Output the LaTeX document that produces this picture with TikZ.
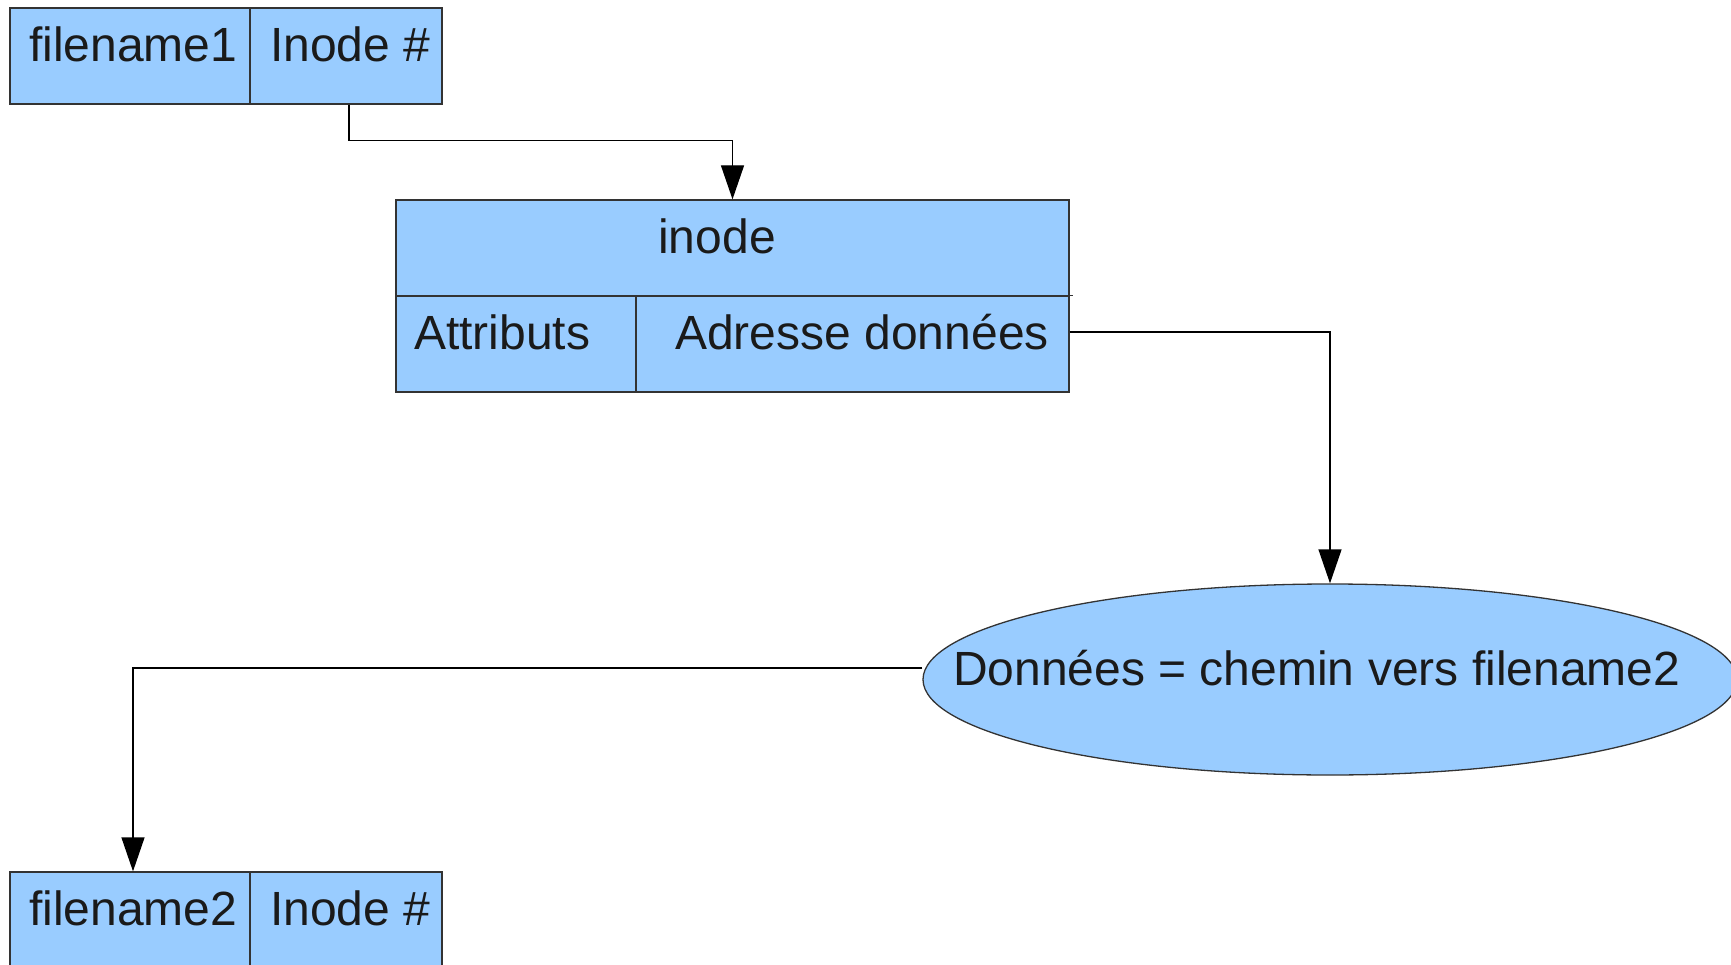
\documentclass[tikz,border=0pt]{standalone}
\usepackage{fontspec}
\setmainfont{Liberation Sans}
\usetikzlibrary{arrows.meta,shapes.geometric,calc}
\definecolor{cellfill}{HTML}{99CCFF}
\definecolor{edge}{HTML}{333333}
\definecolor{ink}{HTML}{1A1A1A}
\tikzset{
  cell/.style={draw=edge, fill=cellfill, line width=1.3pt, inner sep=0pt, rectangle},
  oval/.style={draw=edge, fill=cellfill, line width=1.3pt, inner sep=0pt, ellipse},
  lbl/.style={inner sep=0pt, text=ink, font=\fontsize{48}{58}\selectfont},
  conn/.style={draw=black, line width=1.3pt, -{Triangle[length=34pt,width=23pt]}},
}
\begin{document}
\begin{tikzpicture}[x=1pt,y=-1pt]
\useasboundingbox (0,0) rectangle (1731,965);

% directory entry for filename1
\node[cell, minimum width=240pt, minimum height=96pt] (f1name) at (130,56) {};
\node[cell, minimum width=192pt, minimum height=96pt] (f1ino) at (346,56) {};
\node[lbl, anchor=base west] (f1nametxt) at (29,62) {filename1};
\node[lbl, anchor=base west] (f1inotxt) at (270,62) {Inode \#};

% inode
\node[cell, minimum width=673pt, minimum height=96pt] (inode) at (732.5,248) {};
\node[cell, minimum width=240pt, minimum height=96pt] (attr) at (516,344) {};
\node[cell, minimum width=433pt, minimum height=96pt] (adr) at (852.5,344) {};
\draw[edge, line width=1.3pt] (attr.north west) -- ([xshift=3pt]adr.north east);
\node[lbl, anchor=base] (inodetxt) at (717,254) {inode};
\node[lbl, anchor=base west] (attrtxt) at (414,349) {Attributs};
\node[lbl, anchor=base west] (adrtxt) at (675,349) {Adresse données};

% data block holding the link target
\node[oval, minimum width=814pt, minimum height=191pt] (data) at (1330,679.5) {};
\node[lbl, anchor=base west] (datatxt) at (953,685) {Données = chemin vers filename2};

% directory entry for filename2
\node[cell, minimum width=240pt, minimum height=96pt] (f2name) at (130,920) {};
\node[cell, minimum width=192pt, minimum height=96pt] (f2ino) at (346,920) {};
\node[lbl, anchor=base west] (f2nametxt) at (29,925) {filename2};
\node[lbl, anchor=base west] (f2inotxt) at (270,925) {Inode \#};

% connectors
\draw[conn] ([xshift=3pt]f1ino.south) -- ++(0,36) -| (inode.north);
\draw[conn] ([yshift=12pt]adr.east) -| (data.north);
\draw[conn] ([yshift=11.5pt]data.west) -| ([xshift=3pt]f2name.north);
\end{tikzpicture}
\end{document}
